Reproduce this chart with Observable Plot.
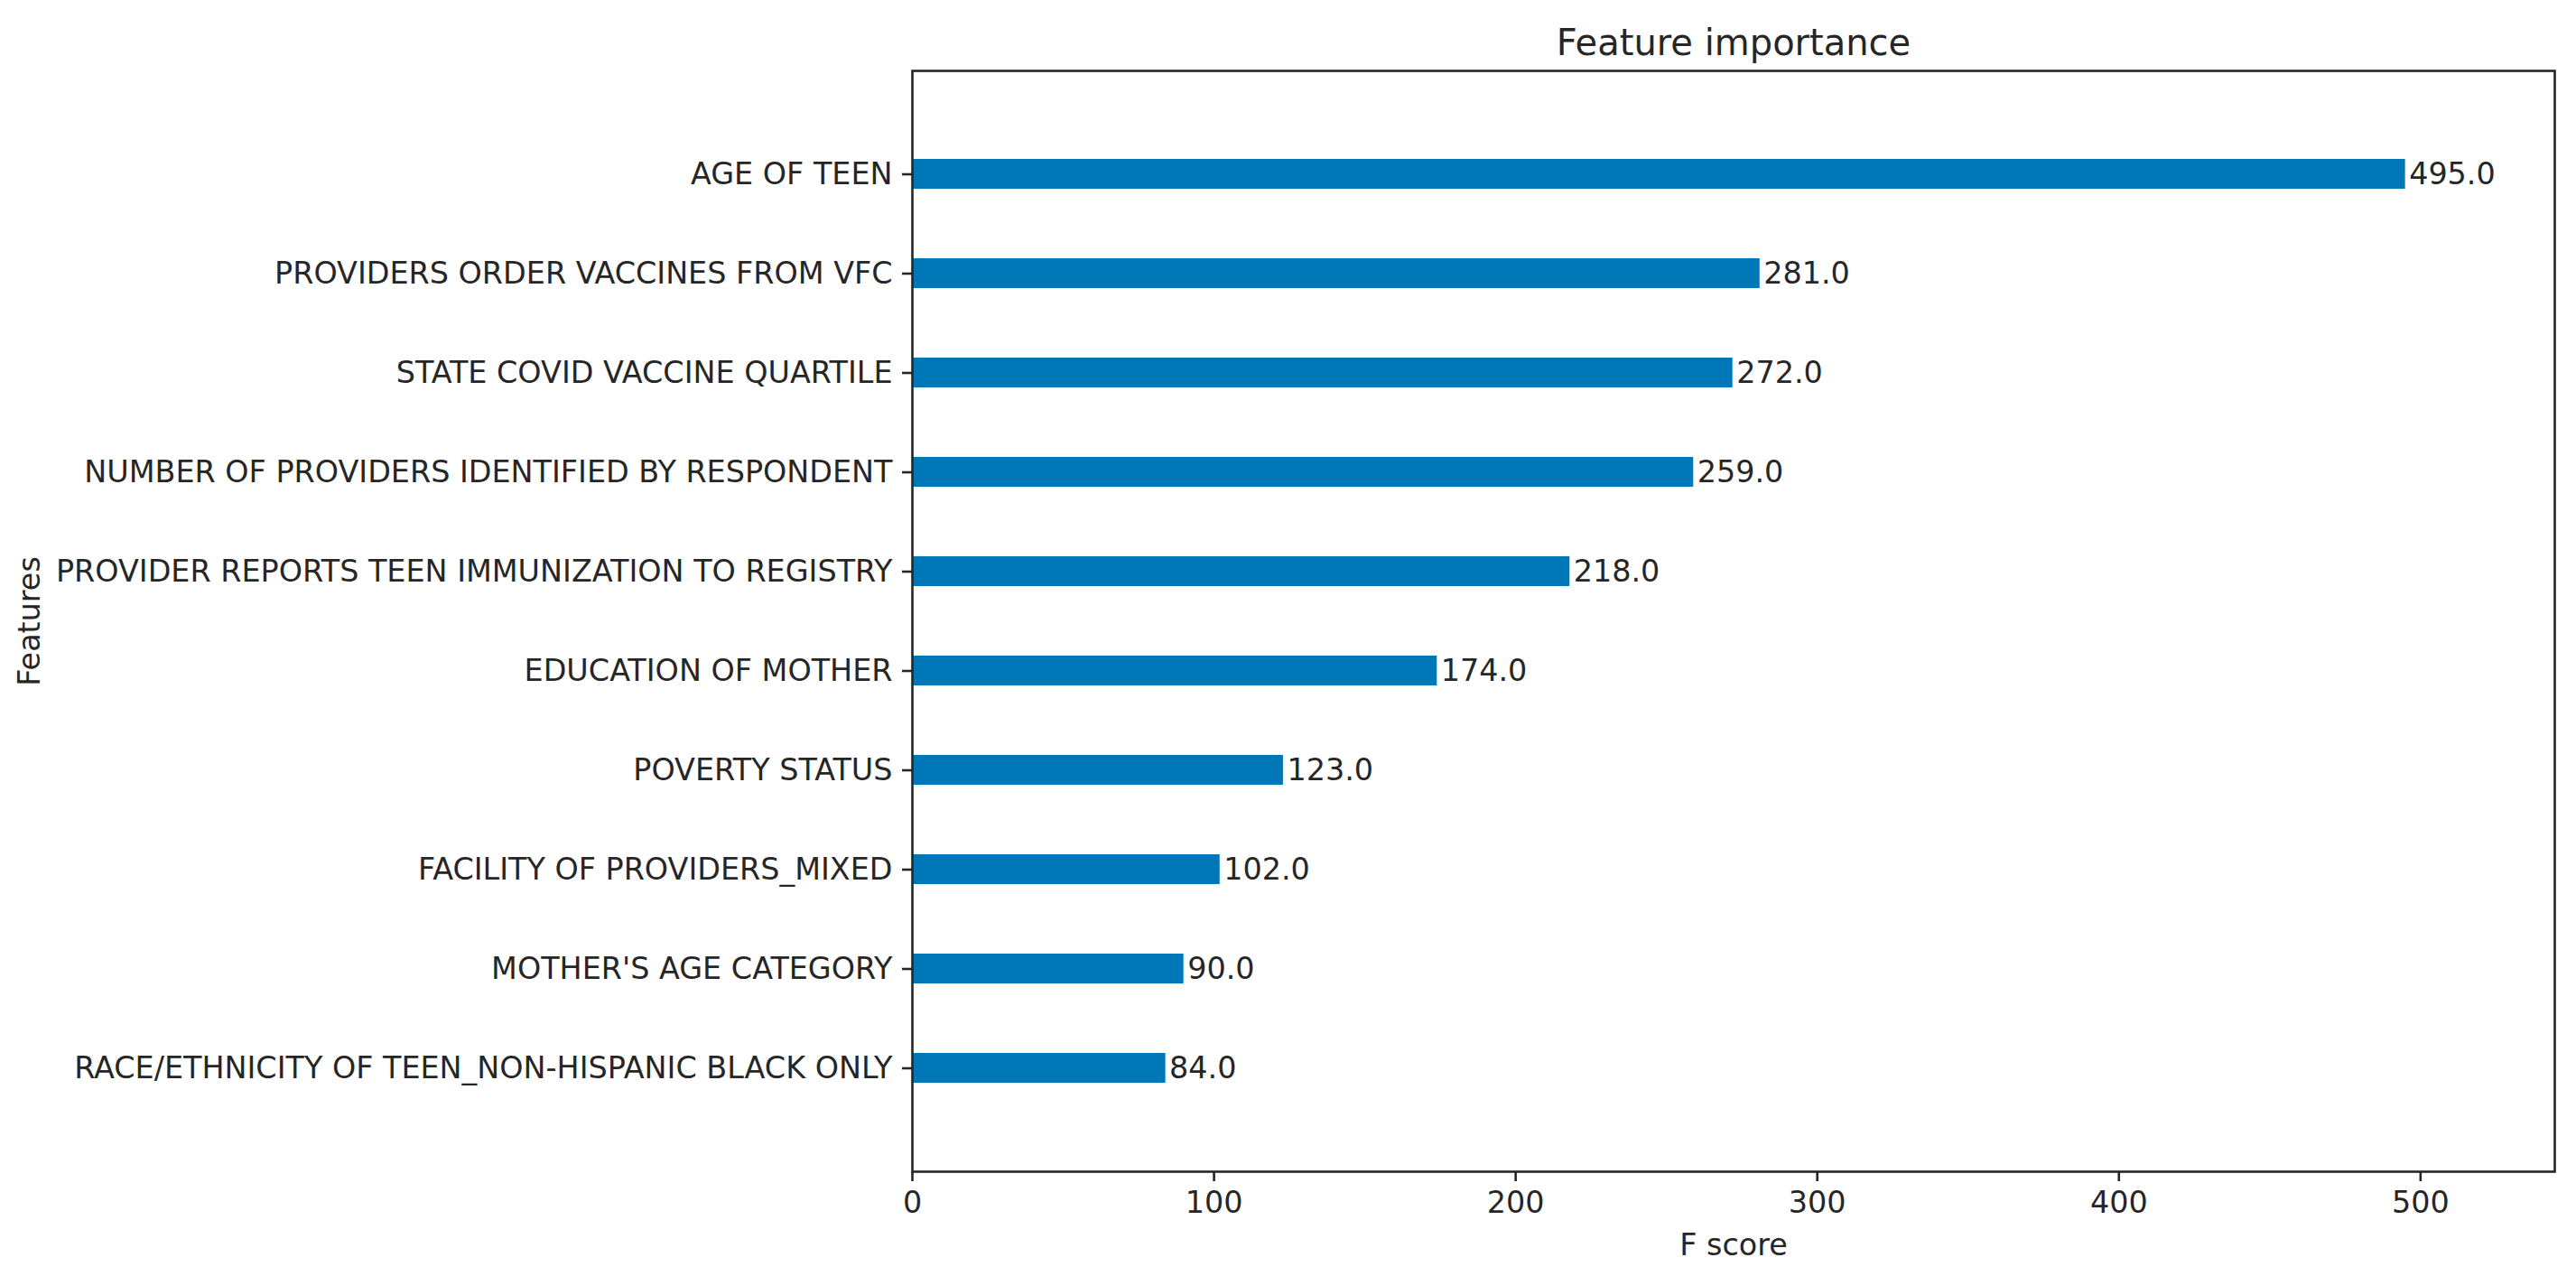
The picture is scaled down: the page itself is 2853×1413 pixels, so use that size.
<!DOCTYPE html>
<html><head><meta charset="utf-8">
<script src="https://cdn.jsdelivr.net/npm/d3@7"></script>
<script src="https://cdn.jsdelivr.net/npm/@observablehq/plot@0.6"></script>
<style>html,body{margin:0;padding:0;background:#fff;} #chart svg{display:block;}</style>
</head><body><div id="chart"></div>
<script>
const features = [
  "AGE OF TEEN",
  "PROVIDERS ORDER VACCINES FROM VFC",
  "STATE COVID VACCINE QUARTILE",
  "NUMBER OF PROVIDERS IDENTIFIED BY RESPONDENT",
  "PROVIDER REPORTS TEEN IMMUNIZATION TO REGISTRY",
  "EDUCATION OF MOTHER",
  "POVERTY STATUS",
  "FACILITY OF PROVIDERS_MIXED",
  "MOTHER'S AGE CATEGORY",
  "RACE/ETHNICITY OF TEEN_NON-HISPANIC BLACK ONLY"
];
const scores = [495, 281, 272, 259, 218, 174, 123, 102, 90, 84];
const xTicks = [0, 100, 200, 300, 400, 500];
const chartTitle = "Feature importance";
const xLabel = "F score";
const yLabel = "Features";

const data = features.map((f, i) => ({feature: f, score: scores[i]}));
const ink = "#262626";

const plot = Plot.plot({
  width: 2853, height: 1413,
  marginLeft: 1010, marginRight: 24, marginTop: 78, marginBottom: 116,
  style: {fontFamily: "'DejaVu Sans', sans-serif", fontSize: "33.4px", color: ink, background: "#fff"},
  x: {domain: [0, d3.max(scores) * 1.1]},
  y: {domain: features, paddingInner: 0.7, paddingOuter: 0.85, align: 0.5},
  marks: [
    Plot.barX(data, {x: "score", y: "feature", fill: "#0077b6"}),
    Plot.text(data, {x: "score", y: "feature", text: d => d.score.toFixed(1), textAnchor: "start", dx: 4, fill: ink}),
    Plot.axisX({ticks: xTicks, tickSize: 11, tickPadding: 11, tickFormat: d => String(d), label: xLabel, labelAnchor: "center", labelOffset: 92, labelArrow: "none", strokeWidth: 2.6}),
    Plot.axisY({tickSize: 11, tickPadding: 11, label: yLabel, labelAnchor: "center", labelOffset: 990, labelArrow: "none", strokeWidth: 2.6}),
    Plot.frame({stroke: ink, strokeWidth: 2.6}),
    Plot.text([chartTitle], {text: d => d, frameAnchor: "top", lineAnchor: "bottom", dy: -18, fontSize: 40, fill: ink})
  ]
});
document.getElementById("chart").appendChild(plot);
</script>
</body></html>
